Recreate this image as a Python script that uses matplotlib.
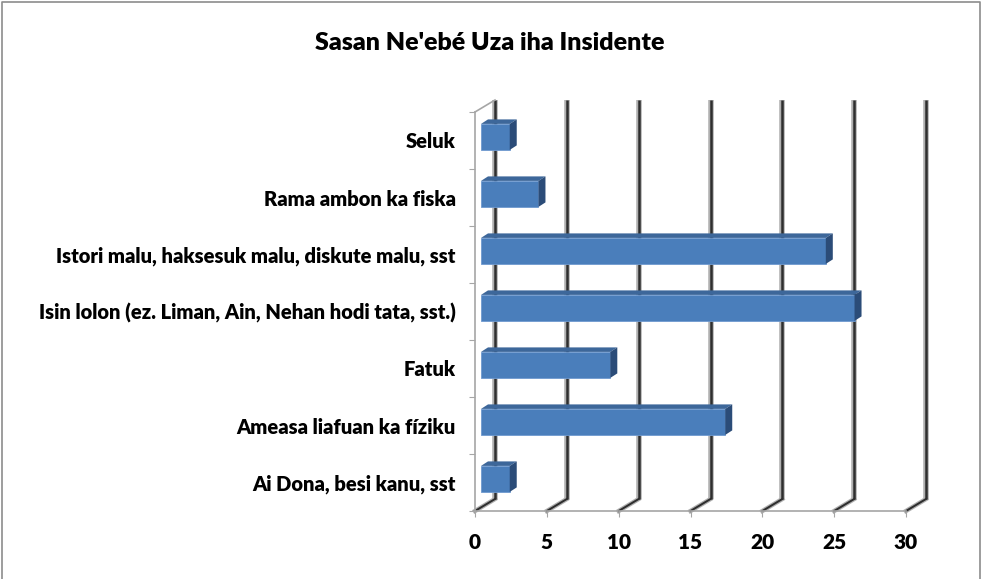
import matplotlib.pyplot as plt
from matplotlib.patches import Polygon, Rectangle

plt.rcParams['font.family'] = ['Lato', 'DejaVu Sans']

categories = ["Seluk", "Rama ambon ka fiska",
              "Istori malu, haksesuk malu, diskute malu, sst",
              "Isin lolon (ez. Liman, Ain, Nehan hodi tata, sst.)",
              "Fatuk", "Ameasa liafuan ka fíziku", "Ai Dona, besi kanu, sst"]
values = [2, 4, 24, 26, 9, 17, 2]
xticks = [0, 5, 10, 15, 20, 25, 30]

W, H = 981, 579
fig = plt.figure(figsize=(W / 100, H / 100), dpi=100)
# front floor corner at pixel (475, 511), x=30 at 906, top of front wall at 112
ax = fig.add_axes([475 / W, (H - 511) / H, (906 - 475) / W, (511 - 112) / H])
n = len(categories)
ax.set_xlim(0, 30)
ax.set_ylim(0, n)

pxx = 431 / 30.0   # px per x unit
pxy = 399 / n      # px per slot
DX, DY = 20 / pxx, 12 / pxy          # depth of the 3d box
bx0, by0 = 6 / pxx, 3.6 / pxy        # bar front offset
bh = 26 / pxy                        # bar height
bdx, bdy = 7 / pxx, 4.5 / pxy        # bar depth

# back wall gridlines + floor diagonals
for t in xticks:
    for c, lw in (("#b0b0b0", 4.0), ("#2e2e2e", 1.8)):
        ax.plot([t + DX, t + DX], [DY, n + DY], color=c, lw=lw, zorder=1,
                clip_on=False, solid_capstyle="butt")
        ax.plot([t, t + DX], [0, DY], color=c, lw=lw * 0.8, zorder=1, clip_on=False)

# left wall
ax.plot([0, DX], [n, n + DY], color="#a6a6a6", lw=1.2, clip_on=False, zorder=1)

# bars
for i, (lab, v) in enumerate(zip(categories, values)):
    c = n - 1 - i + 0.5
    y0 = c - bh / 2 + by0
    y1 = c + bh / 2 + by0
    x0 = bx0
    ax.add_patch(Rectangle((x0, y0), v, bh, facecolor="#4a7ebb",
                           edgecolor="#6f9ad0", lw=0.6, zorder=3, clip_on=False))
    ax.add_patch(Polygon([(x0, y1), (x0 + v, y1), (x0 + v + bdx, y1 + bdy),
                          (x0 + bdx, y1 + bdy)], closed=True,
                         facecolor="#3d679a", edgecolor="none", zorder=3, clip_on=False))
    ax.add_patch(Polygon([(x0 + v, y0), (x0 + v, y1), (x0 + v + bdx, y1 + bdy),
                          (x0 + v + bdx, y0 + bdy)], closed=True,
                         facecolor="#2b4c78", edgecolor="none", zorder=3, clip_on=False))

ax.set_xticks(xticks)
ax.set_xticklabels([str(t) for t in xticks], fontsize=15, fontweight="heavy")
ax.set_yticks([k for k in range(n + 1)], minor=False)
ax.set_yticklabels([""] * (n + 1))
ax.set_yticks([n - 1 - i + 0.5 for i in range(n)], minor=True)
ax.set_yticklabels(categories, minor=True, fontsize=14.5, fontweight="heavy")
ax.tick_params(axis="y", which="minor", length=0, pad=14)
ax.tick_params(axis="y", which="major", length=4, color="#a6a6a6", direction="out")
ax.tick_params(axis="x", length=4, color="#a6a6a6", pad=12)
for s in ("top", "right"):
    ax.spines[s].set_visible(False)
for s in ("left", "bottom"):
    ax.spines[s].set_color("#a6a6a6")
    ax.spines[s].set_linewidth(1.2)
ax.patch.set_visible(False)

fig.text(490 / W, 1 - 43 / H, "Sasan Ne'ebé Uza iha Insidente", ha="center",
         va="center", fontsize=18, fontweight="heavy")

# chart area border
fig.add_artist(plt.Line2D([1.5 / W, 1.5 / W, 979.5 / W, 979.5 / W],
                          [0, 1 - 1.5 / H, 1 - 1.5 / H, 0], color="#8c8c8c", lw=1.2))

fig.savefig("out.png", dpi=100, facecolor="white")
